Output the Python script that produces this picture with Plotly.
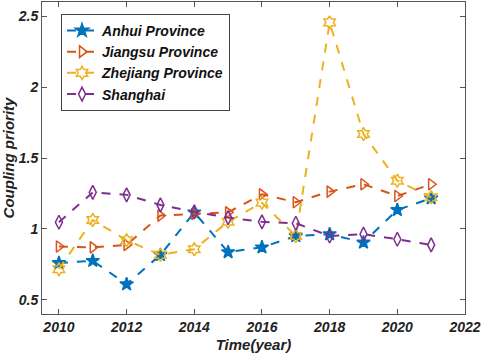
import plotly.graph_objects as go

years = [2010, 2011, 2012, 2013, 2014, 2015, 2016, 2017, 2018, 2019, 2020, 2021]
anhui = [0.76, 0.775, 0.61, 0.817, 1.117, 0.836, 0.87, 0.95, 0.963, 0.904, 1.134, 1.216]
jiangsu = [0.876, 0.87, 0.887, 1.094, 1.106, 1.117, 1.244, 1.188, 1.263, 1.315, 1.232, 1.315]
zhejiang = [0.716, 1.063, 0.92, 0.817, 0.857, 1.05, 1.185, 0.95, 2.456, 1.669, 1.34, 1.223]
shanghai = [1.047, 1.258, 1.24, 1.169, 1.12, 1.08, 1.05, 1.04, 0.95, 0.963, 0.927, 0.887]

names = ["Anhui Province", "Jiangsu Province", "Zhejiang Province", "Shanghai"]
colors = ["#0072BD", "#D95319", "#EDB120", "#7E2F8E"]
symbols = ["star", "triangle-right-open", "hexagram-open", "diamond-tall-open"]
sizes = [10, 10, 10, 10]
series = [anhui, jiangsu, zhejiang, shanghai]

xticks = [2010, 2012, 2014, 2016, 2018, 2020, 2022]
yticks = [0.5, 1, 1.5, 2, 2.5]
yticklabels = ["0.5", "1", "1.5", "2", "2.5"]

font = "Liberation Sans, Arial, sans-serif"

fig = go.Figure()
for n, c, s, sz, v in zip(names, colors, symbols, sizes, series):
    fig.add_trace(go.Scatter(
        x=years, y=v, name=n, mode="lines+markers",
        line=dict(color=c, width=2, dash="dash"),
        marker=dict(symbol=s, size=sz, color=c, line=dict(color=c, width=1.5)),
    ))

axis_common = dict(
    showline=True, linecolor="#555", linewidth=1, mirror="ticks",
    ticks="inside", ticklen=5, tickcolor="#555", showgrid=False, zeroline=False,
    automargin=False,
    tickfont=dict(family=font, size=14, color="#222", weight="bold", style="italic"),
)

fig.update_layout(
    width=484, height=358,
    margin=dict(l=42, r=19, t=2, b=44, autoexpand=False),
    paper_bgcolor="white", plot_bgcolor="white",
    font=dict(family=font),
    xaxis=dict(range=[2009.5, 2022], tickvals=xticks,
               title=dict(text="Time(year)", standoff=5,
                          font=dict(family=font, size=15, color="#222", weight="bold", style="italic")),
               **axis_common),
    yaxis=dict(range=[0.4, 2.6], tickvals=yticks, ticktext=yticklabels,
               title=dict(text="Coupling priority", standoff=4,
                          font=dict(family=font, size=15, color="#222", weight="bold", style="italic")),
               **axis_common),
    legend=dict(x=0.045, y=0.962, xanchor="left", yanchor="top",
                bgcolor="white", bordercolor="#444", borderwidth=1,
                font=dict(family=font, size=14, color="#111", weight="bold", style="italic"),
                tracegroupgap=0),
    showlegend=True,
)

fig.write_html("out.html", config={"displayModeBar": False},
               post_script="document.body.style.margin='0';")
